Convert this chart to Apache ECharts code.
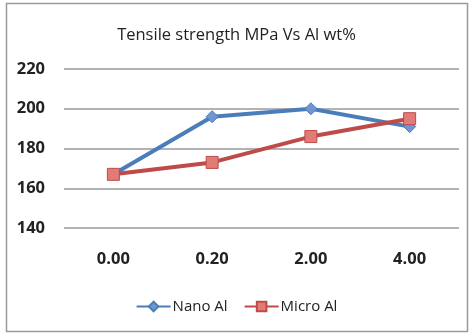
<!DOCTYPE html>
<html><head><meta charset="utf-8">
<script src="https://cdn.jsdelivr.net/npm/echarts@6/dist/echarts.min.js"></script>
<style>html,body{margin:0;padding:0;background:#fff;}#c{width:473px;height:334px;}</style>
</head><body><div id="c"></div>
<script>
var categories = ['0.00', '0.20', '2.00', '4.00'];
var nanoAl = [167, 196, 200, 191];
var microAl = [167, 173, 186, 195];
var yTicks = [140, 160, 180, 200, 220];

var chart = echarts.init(document.getElementById('c'));
chart.setOption({
  animation: false,
  backgroundColor: '#fff',
  graphic: [{type: 'rect', shape: {x: 6.5, y: 3.5, width: 461, height: 328}, style: {fill: 'none', stroke: '#9a9a9a', lineWidth: 1.5}}],
  title: {text: 'Tensile strength MPa Vs Al wt%', left: 'center', top: 22,
    textStyle: {fontFamily: 'Open Sans', fontSize: 16.5, fontWeight: 'normal', color: '#222'}},
  legend: {top: 294, left: 'center', itemWidth: 34, itemHeight: 12, itemGap: 16,
    textStyle: {fontFamily: 'Open Sans', fontSize: 15, color: '#222', padding: [0, 0, 0, -3]},
    data: ['Nano Al', 'Micro Al']},
  grid: {left: 64, right: 14, top: 69, bottom: 334 - 228},
  xAxis: {type: 'category', data: categories, boundaryGap: true,
    axisLine: {show: false}, axisTick: {show: false},
    axisLabel: {margin: 23, fontFamily: 'Open Sans', fontSize: 16.5, fontWeight: 'bold', color: '#222'}},
  yAxis: {type: 'value', min: yTicks[0], max: yTicks[yTicks.length - 1], interval: 20,
    axisLine: {show: false}, axisTick: {show: false},
    axisLabel: {margin: 19, fontFamily: 'Open Sans', fontSize: 16.5, fontWeight: 'bold', color: '#222'},
    splitLine: {lineStyle: {color: '#9a9a9a', width: 1.5}}},
  series: [
    {name: 'Nano Al', type: 'line', data: nanoAl, symbol: 'diamond', symbolSize: 12,
      lineStyle: {color: '#4a7ebb', width: 4}, itemStyle: {color: '#6f96d0', borderColor: '#4a7ebb', borderWidth: 1}},
    {name: 'Micro Al', type: 'line', data: microAl, symbol: 'rect', symbolSize: 12,
      lineStyle: {color: '#be4b48', width: 4}, itemStyle: {color: '#e07b78', borderColor: '#be4b48', borderWidth: 1}}
  ]
});
</script></body></html>
